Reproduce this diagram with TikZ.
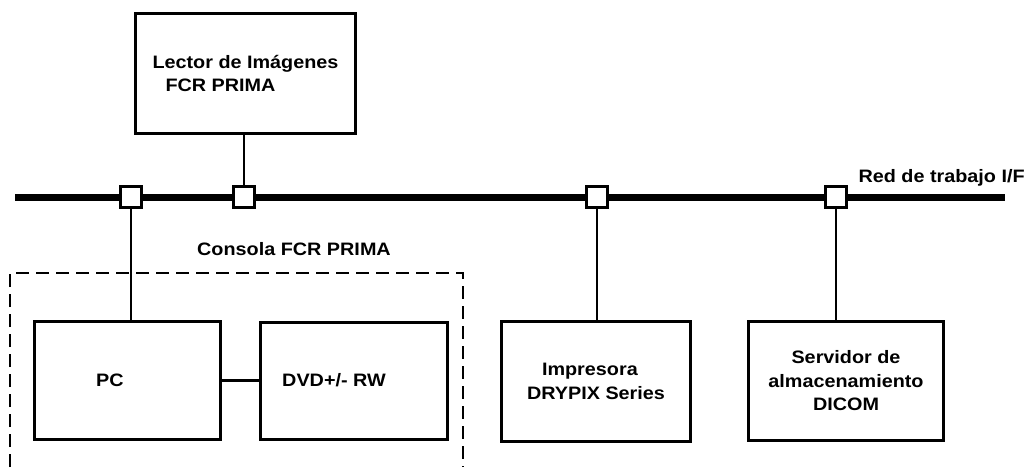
\documentclass[tikz,border=0pt]{standalone}
\usepackage{fontspec}
\setmainfont{Liberation Sans}[FakeStretch=1.1]
\usetikzlibrary{positioning}

\tikzset{
  unit/.style={draw, line width=3pt, fill=white, align=center},
  port/.style={draw, line width=3pt, fill=white, minimum size=21pt, inner sep=0pt},
  link/.style={line width=2.5pt},
}

\begin{document}
\begin{tikzpicture}[x=1pt, y=1pt, every node/.style={font=\bfseries\fontsize{18}{23.5}\selectfont}]
\useasboundingbox (0,0) rectangle (1035,467);
\coordinate (busL) at (15,270);
\coordinate (busR) at (1005,270);
\draw[line width=7pt] (busL) -- (busR);
\node[port] (p1) at (131,270) {};
\node[port] (p2) at (244,270) {};
\node[port] (p3) at (597,270) {};
\node[port] (p4) at (836,270) {};
\node[anchor=base west] (red) at (855,285) {Red de trabajo I/F};
\node[unit, align=left, minimum width=220pt, minimum height=120pt] (lector) at (245.5,393.5) {Lector de Imágenes\\\hspace*{13pt}FCR PRIMA};
\node[anchor=base] (consola) at (294,212) {Consola FCR PRIMA};
\draw[line width=2.5pt, dash pattern=on 13pt off 7pt] (10,0) -- (10,194) -- (463,194) -- (463,0);
\node[unit, minimum width=186pt, minimum height=118pt] (pc) at (127.5,86.5) {PC\hspace*{35pt}};
\node[unit, minimum width=187pt, minimum height=117pt, right=37pt of pc] (dvd) {DVD+/- RW\hspace*{40pt}};
\node[unit, align=left, minimum width=189pt, minimum height=120pt] (imp) at (596,85.5) {\hspace*{15pt}Impresora\\DRYPIX Series};
\node[unit, minimum width=195pt, minimum height=119pt] (srv) at (846,86) {Servidor de\\almacenamiento\\DICOM};
\draw[link] (p2.north) -- (p2.north |- lector.south);
\draw[link] (p1.south) -- (p1.south |- pc.north);
\draw[link] (p3.south) -- (p3.south |- imp.north);
\draw[link] (p4.south) -- (p4.south |- srv.north);
\draw[link] (pc.east) -- (dvd.west);
\end{tikzpicture}
\end{document}
